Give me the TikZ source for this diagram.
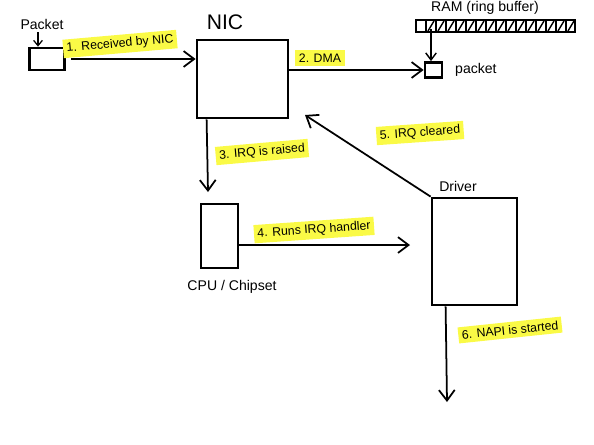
\documentclass[tikz,border=0pt]{standalone}
\usepackage{fontspec}
\setmainfont{Liberation Sans}
\usetikzlibrary{arrows.meta}
\definecolor{hl}{RGB}{250,250,70}
\tikzset{
  box/.style={draw, line width=1.6pt, inner sep=0pt},
  flow/.style={-{Straight Barb[length=6pt,width=9pt]}, line width=1pt},
  note/.style={fill=hl, inner sep=2pt, font=\scriptsize},
  tag/.style={font=\footnotesize}
}
\begin{document}
\begin{tikzpicture}[x=0.02cm,y=-0.02cm]
  \useasboundingbox (0,0) rectangle (594,444);
  % boxes
  \node[box, minimum width=0.7cm, minimum height=0.44cm] (pkt) at (47,59) {};
  \node[box, minimum width=1.82cm, minimum height=1.56cm] (nic) at (242.5,79) {};
  \node[box, minimum width=0.34cm, minimum height=0.3cm] (rpkt) at (433.5,70) {};
  \node[box, minimum width=0.74cm, minimum height=1.28cm] (cpu) at (219.5,236) {};
  \node[box, minimum width=1.7cm, minimum height=2.14cm] (drv) at (474.5,251.5) {};
  \node[draw, line width=1.2pt, minimum width=3.18cm, minimum height=0.24cm, inner sep=0pt] (ram) at (495.5,26) {};
  \foreach \i in {1,...,15} {
    \draw[line width=0.8pt] (416+10*\i,20) -- (416+10*\i,32);
    \draw[line width=0.8pt] (418+10*\i,31) -- (424+10*\i,21);
  }
  % labels
  \node[tag] (pkttxt) at (42,24) {Packet};
  \node[font=\large] (nictxt) at (225,22) {NIC};
  \node[tag] (ramtxt) at (485,8) {RAM (ring buffer)};
  \node[tag, right] (rpkttxt) at (449,70) {packet};
  \node[tag] (cputxt) at (232,287) {CPU / Chipset};
  \node[tag] (drvtxt) at (458,186) {Driver};
  \coordinate (p0) at (38,32);
  \coordinate (r0) at (431,29);
  \coordinate (c5) at (305,115);
  \coordinate (out) at (447,402);
  % connectors
  \draw[-{Straight Barb[length=3pt,width=5pt]}, line width=0.7pt] (p0) -- (p0 |- pkt.north);
  \draw[flow, shorten <=3pt] (pkt.east) -- (nic.west |- pkt.east);
  \draw[flow] (nic.east |- rpkt.west) -- (rpkt.west);
  \draw[-{Straight Barb[length=4pt,width=6pt]}, line width=0.8pt] (r0) -- (r0 |- rpkt.north);
  \draw[flow] (nic.south west) ++(11,0) -- (208,192);
  \draw[flow] (cpu.east) ++(0,9) -- (410,245);
  \draw[flow] (drv.north west) -- (c5);
  \draw[flow] (drv.south west) ++(15,0) -- (out);
  % steps
  \node[note, rotate=5] (s1) at (120,44) {1. Received by NIC};
  \node[note] (s2) at (320,58) {2. DMA};
  \node[note, rotate=5] (s3) at (262,152) {3. IRQ is raised};
  \node[note, rotate=4] (s4) at (314,230) {4. Runs IRQ handler};
  \node[note, rotate=4] (s5) at (420,133) {5. IRQ cleared};
  \node[note, rotate=6] (s6) at (510,330) {6. NAPI is started};
\end{tikzpicture}
\end{document}
